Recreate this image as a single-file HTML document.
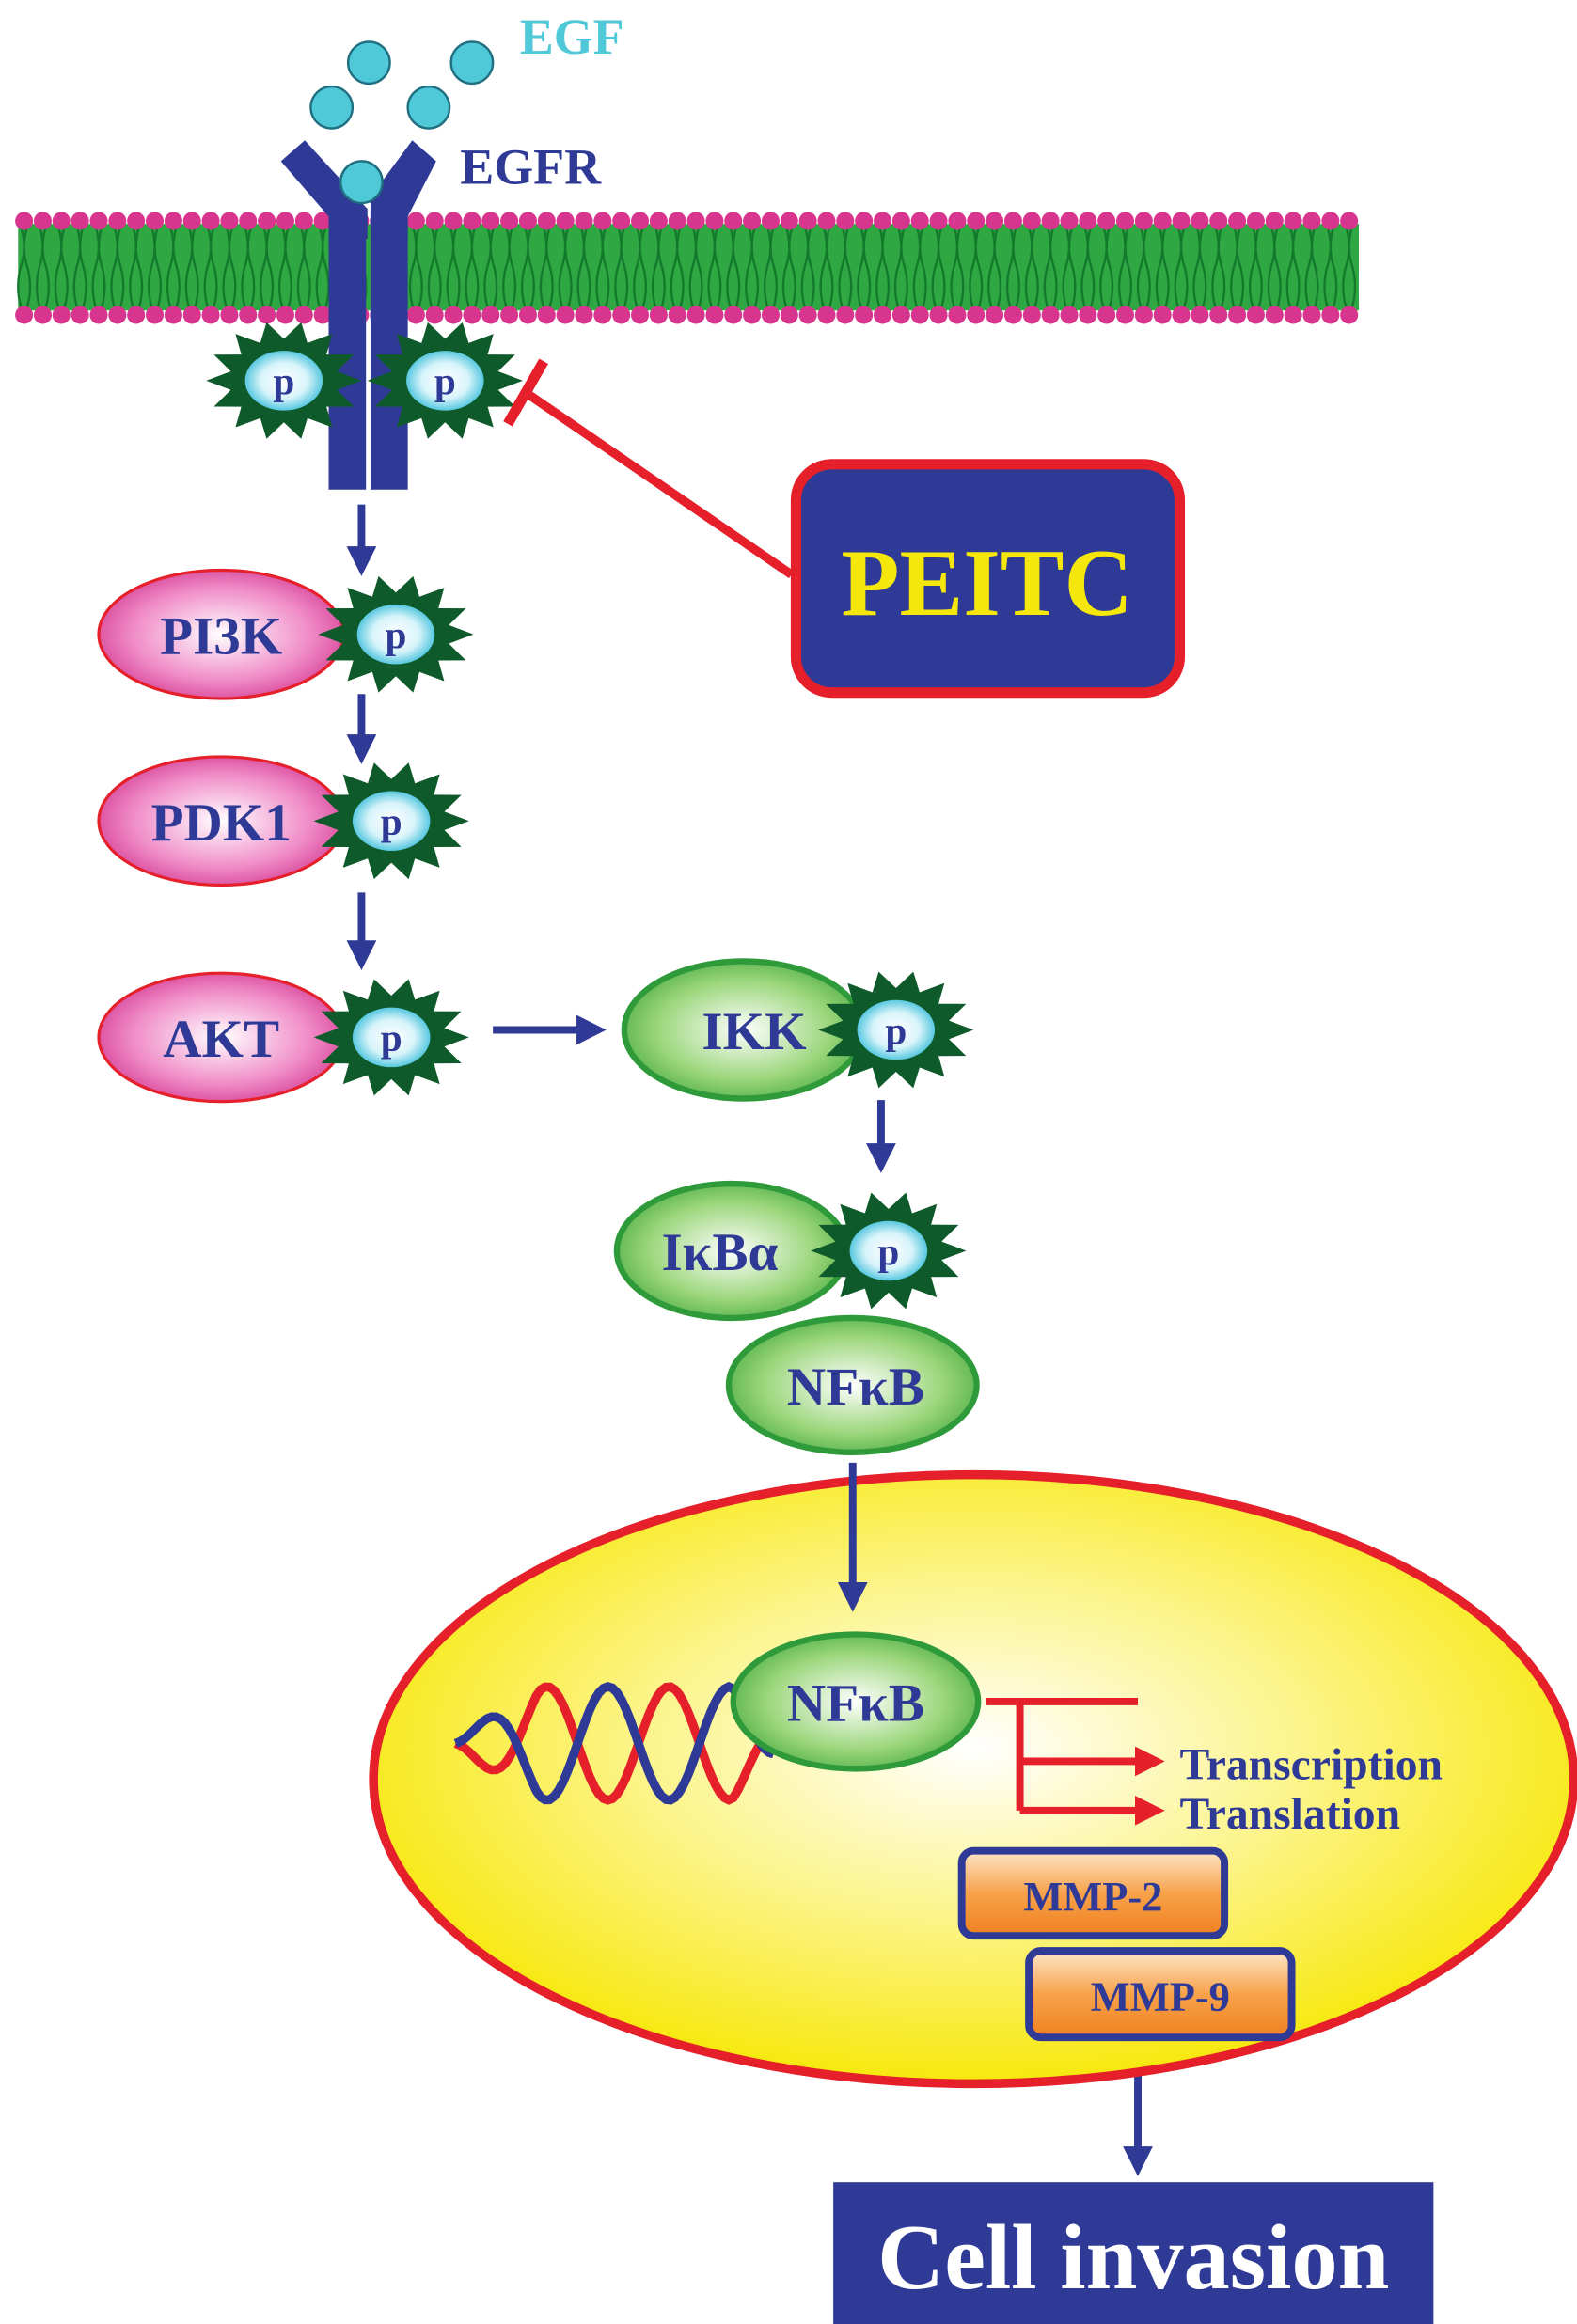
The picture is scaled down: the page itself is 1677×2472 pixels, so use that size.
<!DOCTYPE html>
<html><head><meta charset="utf-8"><style>
html,body{margin:0;padding:0;background:#fff}
svg{display:block}
text{font-family:"Liberation Serif",serif;font-weight:bold}
</style></head><body>
<svg id="s" width="1677" height="2472" viewBox="0 0 1056 1557" xmlns="http://www.w3.org/2000/svg">
<defs>
<radialGradient id="pink" cx="50%" cy="50%" r="60%"><stop offset="0" stop-color="#fff"/><stop offset="0.6" stop-color="#f08cc8"/><stop offset="1" stop-color="#d0308a"/></radialGradient>
<radialGradient id="green" cx="50%" cy="50%" r="60%"><stop offset="0" stop-color="#fff"/><stop offset="0.6" stop-color="#9cd67c"/><stop offset="1" stop-color="#3fa63a"/></radialGradient>
<radialGradient id="yel" cx="50%" cy="45%" r="55%"><stop offset="0" stop-color="#fff"/><stop offset="0.5" stop-color="#fcf48a"/><stop offset="1" stop-color="#f7e80c"/></radialGradient>
<radialGradient id="starc" cx="50%" cy="50%" r="50%"><stop offset="0" stop-color="#fff"/><stop offset="0.6" stop-color="#d8f4fa"/><stop offset="1" stop-color="#58c8e0"/></radialGradient>
<linearGradient id="org" x1="0" y1="0" x2="0" y2="1"><stop offset="0" stop-color="#fde6c8"/><stop offset="0.5" stop-color="#f7a24a"/><stop offset="1" stop-color="#f08020"/></linearGradient>
<marker id="ab" markerWidth="4" markerHeight="4" refX="2" refY="2" orient="auto" markerUnits="strokeWidth"><path d="M0,0 L4,2 L0,4 z" fill="#2e3a96"/></marker>
<marker id="ar" markerWidth="4" markerHeight="4" refX="2" refY="2" orient="auto" markerUnits="strokeWidth"><path d="M0,0 L4,2 L0,4 z" fill="#e5202a"/></marker>
</defs>
<g id="mem"></g>
<!-- EGF -->
<g fill="#4fc8d8" stroke="#1f6f80" stroke-width="1.5">
<circle cx="222" cy="72" r="14"/><circle cx="247" cy="42" r="14"/><circle cx="287" cy="72" r="14"/><circle cx="316" cy="42" r="14"/><circle cx="242" cy="122" r="14"/></g>
<text x="348" y="36" font-size="34" fill="#4fc8d8">EGF</text>
<text x="308" y="123" font-size="34" fill="#2e3a96">EGFR</text>
<!-- EGFR -->
<g fill="#2e3a96">
<polygon points="188,108 204,94 246,140 246,160 220,160 220,145"/>
<polygon points="292,108 276,94 248,132 248,160 273,160 273,145"/>
<rect x="220" y="140" width="25" height="188"/><rect x="248" y="140" width="25" height="188"/>
</g>
<circle cx="242" cy="122" r="14" fill="#4fc8d8" stroke="#1f6f80" stroke-width="1.5"/>
<g id="stars"></g>
<!-- inhibition -->
<line x1="530" y1="385" x2="352" y2="263" stroke="#e5202a" stroke-width="6"/>
<line x1="340" y1="284" x2="364" y2="242" stroke="#e5202a" stroke-width="7"/>
<rect x="533" y="311" width="257" height="153" rx="24" fill="#2e3a96" stroke="#e5202a" stroke-width="7"/>
<text x="661" y="412" font-size="64" fill="#f5e70c" text-anchor="middle">PEITC</text>
<!-- arrows -->
<g stroke="#2e3a96" stroke-width="5" fill="none" marker-end="url(#ab)">
<line x1="242" y1="338" x2="242" y2="376"/>
<line x1="242" y1="465" x2="242" y2="502"/>
<line x1="242" y1="598" x2="242" y2="640"/>
<line x1="330" y1="690" x2="396" y2="690"/>
<line x1="590" y1="737" x2="590" y2="776"/>
<line x1="762" y1="1380" x2="762" y2="1448"/>
</g>
<!-- nucleus -->
<ellipse cx="652" cy="1192" rx="402" ry="204" fill="url(#yel)" stroke="#e5202a" stroke-width="6"/>
<line x1="571" y1="980" x2="571" y2="1070" stroke="#2e3a96" stroke-width="5" marker-end="url(#ab)"/>
<g id="dna" fill="none" stroke-width="6"></g>
<!-- pink nodes -->
<g stroke="#e5202a" stroke-width="2" fill="url(#pink)">
<ellipse cx="148" cy="425" rx="82" ry="43"/><ellipse cx="148" cy="550" rx="82" ry="43"/><ellipse cx="148" cy="695" rx="82" ry="43"/></g>
<g stroke="#2e9a3a" stroke-width="4" fill="url(#green)">
<ellipse cx="498" cy="690" rx="80" ry="46"/><ellipse cx="490" cy="838" rx="77" ry="45"/><ellipse cx="571" cy="928" rx="83" ry="45"/><ellipse cx="573" cy="1140" rx="82" ry="45"/></g>
<g id="stars2"></g>
<g font-size="36" fill="#2e3a96" text-anchor="middle">
<text x="148" y="438">PI3K</text><text x="148" y="563">PDK1</text><text x="148" y="708">AKT</text>
<text x="505" y="703">IKK</text><text x="482" y="851">IκBα</text><text x="573" y="941">NFκB</text><text x="573" y="1153">NFκB</text></g>
<!-- transcription -->
<g stroke="#e5202a" stroke-width="5" fill="none">
<polyline points="660,1140 762,1140"/><polyline points="683,1140 683,1213"/>
<line x1="683" y1="1180" x2="770" y2="1180" marker-end="url(#ar)"/>
<line x1="683" y1="1213" x2="770" y2="1213" marker-end="url(#ar)"/></g>
<text x="790" y="1192" font-size="30" fill="#2e3a96">Transcription</text>
<text x="790" y="1225" font-size="30" fill="#2e3a96">Translation</text>
<rect x="644" y="1240" width="176" height="57" rx="8" fill="url(#org)" stroke="#2e3a96" stroke-width="5"/>
<rect x="689" y="1307" width="176" height="58" rx="8" fill="url(#org)" stroke="#2e3a96" stroke-width="5"/>
<text x="732" y="1280" font-size="28" fill="#2e3a96" text-anchor="middle">MMP-2</text>
<text x="777" y="1347" font-size="28" fill="#2e3a96" text-anchor="middle">MMP-9</text>
<rect x="558" y="1462" width="402" height="95" fill="#2e3a96"/>
<text x="759" y="1533" font-size="62" fill="#fff" text-anchor="middle">Cell invasion</text>
</svg>
<script>
var NS="http://www.w3.org/2000/svg";
function el(p,t,a){var e=document.createElementNS(NS,t);for(var k in a)e.setAttribute(k,a[k]);p.appendChild(e);return e;}
var mem=document.getElementById("mem");
el(mem,"rect",{x:12,y:150,width:898,height:58,fill:"#2fa844"});
for(var x=16;x<910;x+=12.5){
 el(mem,"path",{d:"M"+(x-2)+",152 q4,14 0,26 q-4,14 0,28 M"+(x+2)+",152 q-4,14 0,26 q4,14 0,28",stroke:"#137a2c","stroke-width":1.5,fill:"none"});
}
for(var x=16;x<910;x+=12.5){
 el(mem,"circle",{cx:x,cy:148,r:6,fill:"#d8368e"});
 el(mem,"circle",{cx:x,cy:211,r:6,fill:"#d8368e"});
}
function star(g,cx,cy){
 var pts=[],n=14;
 for(var i=0;i<2*n;i++){var a=Math.PI*i/n;var R=i%2?0.7:1;pts.push((cx+52*R*Math.cos(a)).toFixed(1)+","+(cy+40*R*Math.sin(a)).toFixed(1));}
 el(g,"polygon",{points:pts.join(" "),fill:"#0f5a2a"});
 el(g,"ellipse",{cx:cx,cy:cy,rx:26,ry:20,fill:"url(#starc)"});
 var t=el(g,"text",{x:cx,y:cy+9,"font-size":26,fill:"#2e3a96","text-anchor":"middle"});t.textContent="p";
}
var s1=document.getElementById("stars");star(s1,190,255);star(s1,298,255);
var s2=document.getElementById("stars2");
[[265,425],[262,550],[262,695],[600,690],[595,838]].forEach(function(p){star(s2,p[0],p[1]);});
var dna=document.getElementById("dna");
function helix(ph,col){var d="";for(var x=305;x<=520;x+=3){var amp=38*Math.min(1,(x-300)/60)*Math.min(1,(530-x)/40);var y=1168+amp*Math.sin((x-305)/13+ph);d+=(d?" L":"M")+x+","+y.toFixed(1);}el(dna,"path",{d:d,stroke:col});}
helix(0,"#e5202a");helix(Math.PI,"#2e3a96");
</script>
</body></html>
